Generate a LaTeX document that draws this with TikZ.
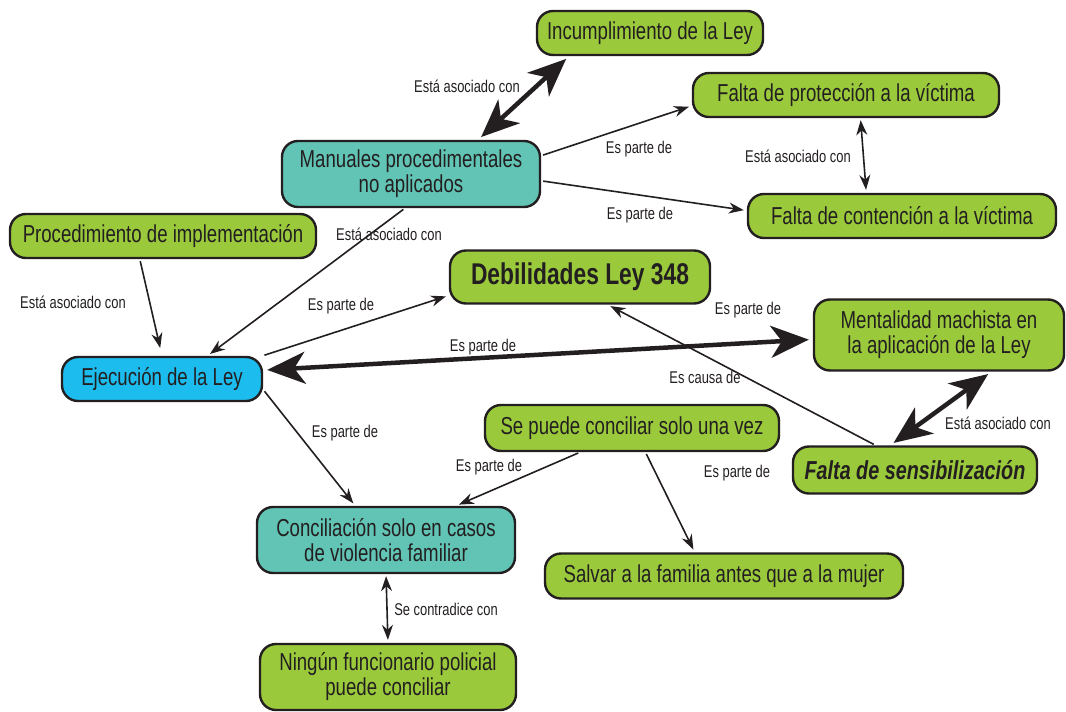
\documentclass[tikz,border=0pt]{standalone}
\usepackage{fontspec}
\setmainfont{Liberation Sans}[FakeStretch=0.76]
\usetikzlibrary{arrows.meta}

\definecolor{ink}{HTML}{231F20}
\definecolor{leaf}{HTML}{9AC93B}
\definecolor{sea}{HTML}{62C4B5}
\definecolor{sky}{HTML}{1CBDEE}

\tikzset{
  concept/.style={draw=ink, line width=2.4pt, rounded corners=16pt, fill=leaf,
    text=ink, align=center, font=\fontsize{24.5}{25}\selectfont,
    minimum height=44pt, inner xsep=6pt, inner ysep=2pt},
  hub/.style={concept, fill=sea, minimum height=66pt},
  root/.style={concept, fill=sky},
  link/.style={text=ink, font=\fontsize{17}{18}\selectfont, inner sep=1pt},
  rel/.style={draw=ink, line width=1.6pt, -{Stealth[length=15pt,width=11pt]},
    shorten >=3pt, shorten <=2pt},
  bothrel/.style={rel, {Stealth[length=15pt,width=11pt]}-{Stealth[length=15pt,width=11pt]}},
  strong/.style={draw=ink, line width=4.5pt,
    {Stealth[length=38pt,width=32pt,inset=11pt]}-{Stealth[length=38pt,width=32pt,inset=11pt]},
    shorten >=4pt, shorten <=4pt}
}

\begin{document}
\begin{tikzpicture}[x=1pt, y=-1pt]
  \useasboundingbox (0,0) rectangle (1066,712);

  % concepts
  \node[concept, minimum width=226pt] (incump) at (650,33) {Incumplimiento de la Ley};
  \node[concept, minimum width=306pt] (proteccion) at (846,95) {Falta de protección a la víctima};
  \node[hub, minimum width=258pt] (manuales) at (411,174) {Manuales procedimentales\\no aplicados};
  \node[concept, minimum width=308pt] (contencion) at (902,216) {Falta de contención a la víctima};
  \node[concept, minimum width=306pt] (procedimiento) at (163,236) {Procedimiento de implementación};
  \node[concept, minimum width=260pt, minimum height=53pt,
        font=\bfseries\fontsize{30}{30}\selectfont] (debilidades) at (580,277) {Debilidades Ley 348};
  \node[concept, minimum width=250pt, minimum height=71pt] (mentalidad) at (939,335) {Mentalidad machista en\\la aplicación de la Ley};
  \node[root, minimum width=200pt] (ejecucion) at (162,379) {Ejecución de la Ley};
  \node[concept, minimum width=294pt, minimum height=46pt] (sepuede) at (632,428) {Se puede conciliar solo una vez};
  \node[concept, minimum width=244pt, minimum height=47pt,
        font=\bfseries\itshape\fontsize{26}{26}\selectfont] (sensib) at (915,470) {Falta de sensibilización};
  \node[hub, minimum width=258pt] (conciliacion) at (386,540) {Conciliación solo en casos\\de violencia familiar};
  \node[concept, minimum width=358pt, minimum height=45pt] (salvar) at (724,576) {Salvar a la familia antes que a la mujer};
  \node[concept, minimum width=256pt, minimum height=66pt] (ningun) at (388,677) {Ningún funcionario policial\\puede conciliar};

  % links
  \draw[strong] (manuales.27) -- (incump.196);
  \draw[rel] (manuales.8) -- (proteccion.184);
  \draw[rel] (manuales.357) -- (contencion.178);
  \draw[bothrel] (proteccion.302) -- (contencion.147);
  \draw[rel] (manuales.260) -- (ejecucion.27);
  \draw[rel, shorten >=8pt] (procedimiento.225) -- (ejecucion.north);
  \draw[rel] (ejecucion.13) -- (debilidades.188);
  \draw[strong] (ejecucion.5) -- (mentalidad.182);
  \draw[rel] (sensib.148) -- (debilidades.315);
  \draw[strong] (sensib.135) -- (mentalidad.325);
  \draw[rel] (ejecucion.354) -- (conciliacion.132);
  \draw[rel] (sepuede.205) -- (conciliacion.26);
  \draw[rel] (sepuede.299) -- (salvar.141);
  \draw[bothrel] (conciliacion.south) -- (ningun.north);

  % link labels
  \node[link] (l1) at (467,86) {Está asociado con};
  \node[link] (l2) at (639,149) {Es parte de};
  \node[link] (l3) at (640,215) {Es parte de};
  \node[link] (l4) at (798,156) {Está asociado con};
  \node[link] (l5) at (389,234) {Está asociado con};
  \node[link] (l6) at (73,302) {Está asociado con};
  \node[link] (l7) at (341,306) {Es parte de};
  \node[link] (l8) at (483,347) {Es parte de};
  \node[link] (l9) at (748,310) {Es parte de};
  \node[link] (l10) at (705,377) {Es causa de};
  \node[link] (l11) at (998,423) {Está asociado con};
  \node[link] (l12) at (345,433) {Es parte de};
  \node[link] (l13) at (489,467) {Es parte de};
  \node[link] (l14) at (737,473) {Es parte de};
  \node[link] (l15) at (446,609) {Se contradice con};
\end{tikzpicture}
\end{document}
